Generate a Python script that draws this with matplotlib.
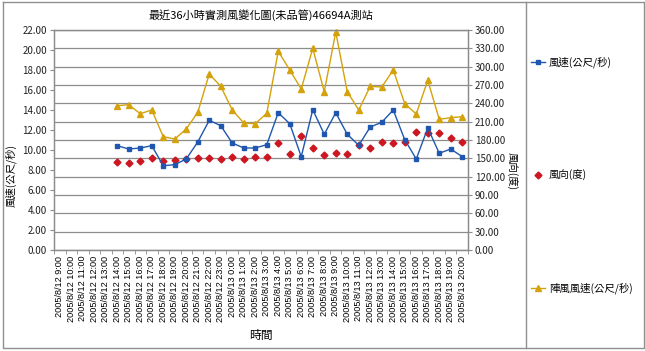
import numpy as np
import matplotlib
matplotlib.use("Agg")
import matplotlib.pyplot as plt
from matplotlib.lines import Line2D

plt.rcParams['font.family'] = ['Noto Sans CJK TC', 'DejaVu Sans']

# time labels (36 hours), data begins at 2005/8/12 14:00
hours = [f"2005/8/12 {h}:00" for h in range(9, 24)] + [f"2005/8/13 {h}:00" for h in range(0, 21)]
first_idx = 5

speed = [10.43, 10.1, 10.2, 10.43, 8.43, 8.53, 9.1, 10.8, 12.97, 12.43,
         10.7, 10.2, 10.2, 10.53, 13.73, 12.63, 9.33, 14.03, 11.57, 13.73,
         11.57, 10.47, 12.3, 12.77, 14.0, 11.03, 9.1, 12.2, 9.67, 10.1, 9.33]
direction = [144.5, 142.9, 146.1, 151.0, 146.1, 147.8, 148.9, 151.0, 150.0, 149.5,
             151.6, 149.5, 152.7, 152.7, 174.5, 157.0, 187.0, 166.4, 155.5, 158.2,
             156.5, 171.3, 167.4, 176.2, 175.0, 176.2, 193.0, 191.0, 191.0, 183.7, 176.2]
gust = [14.43, 14.53, 13.63, 14.0, 11.33, 11.1, 12.1, 13.77, 17.6, 16.37,
        14.0, 12.7, 12.63, 13.67, 19.87, 18.0, 16.1, 20.17, 15.83, 21.8,
        15.83, 14.0, 16.37, 16.3, 18.0, 14.63, 13.6, 16.97, 13.07, 13.23, 13.33]

blue = '#1f57b0'
red = '#cc1620'
gold = '#d4a20c'
grid_c = '#8c8c8c'

fig = plt.figure(figsize=(6.45, 3.51), dpi=100)
W, H = 645, 351
ax = fig.add_axes([54 / W, 1 - 250 / H, 414 / W, 220 / H])
ax2 = ax.twinx()

x = np.arange(first_idx, first_idx + len(speed))

# gridlines follow the right axis (every 30 deg)
ax2.set_ylim(0, 360)
ax2.set_yticks(np.arange(0, 361, 30))
ax2.yaxis.grid(True, color=grid_c, lw=0.9)
ax2.set_yticklabels([f"{v:.2f}" for v in range(0, 361, 30)], fontsize=7, color='#222222')
ax2.tick_params(axis='y', length=3, color=grid_c, pad=2)
ax2.set_ylabel("風向(度)", fontsize=7.5, rotation=-90)
ax2.yaxis.set_label_coords(1.12, 0.36)

ax.set_ylim(0, 22)
ax.set_yticks(np.arange(0, 23, 2))
ax.set_yticklabels([f"{v:.2f}" for v in range(0, 23, 2)], fontsize=7, color='#222222')
ax.tick_params(axis='y', length=3, color=grid_c, pad=2)
ax.set_ylabel("風速(公尺/秒)", fontsize=7.5)
ax.yaxis.set_label_coords(-0.09, 0.34)

ax.set_xlim(-0.5, len(hours) - 0.5)
ax.set_xticks(np.arange(len(hours)))
ax.set_xticklabels(hours, rotation=90, fontsize=6.6, family=['Liberation Sans', 'DejaVu Sans'])
ax.set_xticks(np.arange(-0.5, len(hours)), minor=True)
ax.tick_params(axis='x', which='major', length=0, pad=4)
ax.tick_params(axis='x', which='minor', length=3, color=grid_c)
ax.set_xlabel("時間", fontsize=8.5, labelpad=5)

for a in (ax, ax2):
    for s in a.spines.values():
        s.set_color(grid_c)
        s.set_linewidth(0.9)

ax.set_zorder(ax2.get_zorder() + 1)
ax.patch.set_visible(False)

ax2.plot(x, direction, color=red, lw=0, marker='D', ms=3.5, label="風向(度)")
ax.plot(x, speed, color=blue, lw=1, marker='s', ms=3.5, label="風速(公尺/秒)", clip_on=False)
ax.plot(x, gust, color=gold, lw=1, marker='^', ms=5, label="陣風風速(公尺/秒)", clip_on=False)

ax.set_title("最近36小時實測風變化圖(未品管)46694A測站", fontsize=8, pad=8)

# legend entries placed like the original
handles = [
    Line2D([], [], color=blue, lw=1, marker='s', ms=3.5),
    Line2D([], [], color=red, lw=0, marker='D', ms=3.5),
    Line2D([], [], color=gold, lw=1, marker='^', ms=5),
]
labels = ["風速(公尺/秒)", "風向(度)", "陣風風速(公尺/秒)"]
for h, lab, yy in zip(handles, labels, [62, 175, 288]):
    fig.legend([h], [lab], loc='center left', bbox_to_anchor=(527 / W, 1 - yy / H),
               frameon=False, fontsize=7.5, handlelength=1.3, handletextpad=0.4,
               borderaxespad=0)

# outer frame and legend separator
frame_c = '#909090'
fig.add_artist(Line2D([3 / W, 644 / W, 644 / W, 3 / W, 3 / W],
                      [1 - 2 / H, 1 - 2 / H, 1 - 348 / H, 1 - 348 / H, 1 - 2 / H],
                      color=frame_c, lw=1))
fig.add_artist(Line2D([526 / W, 526 / W], [1 - 2 / H, 1 - 348 / H], color=frame_c, lw=1))

fig.savefig("out.png", dpi=100)
